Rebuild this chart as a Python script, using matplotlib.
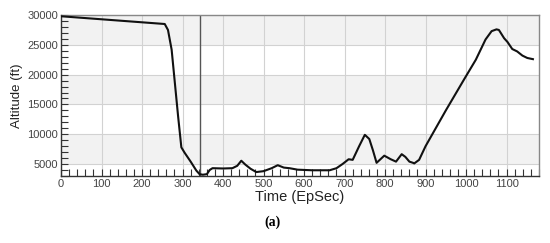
"""
Altitude profile vs. time (EpSec), panel (a).
"""

import matplotlib.pyplot as plt
from matplotlib.ticker import MultipleLocator

# Data
time_s = [0, 256, 264, 273, 281, 289, 297, 305, 320, 334, 342, 350, 360,
          367, 374, 400, 423, 435, 445, 455, 468, 482, 500, 520, 535, 550,
          564, 584, 620, 663, 680, 695, 710, 720, 736, 750, 761, 770, 779,
          798, 814, 827, 841, 850, 860, 869, 872, 884, 900, 950, 995, 1024,
          1048, 1063, 1075, 1081, 1094, 1102, 1114, 1126, 1139, 1151, 1165]
altitude_ft = [29800, 28500, 27500, 24200, 18600, 13000, 7800, 6900, 5400,
               3900, 3300, 3200, 3300, 4000, 4300, 4250, 4300, 4700, 5550,
               4900, 4200, 3650, 3800, 4300, 4800, 4400, 4300, 4050, 3950,
               3950, 4300, 5000, 5800, 5700, 8000, 9900, 9200, 7300, 5200,
               6400, 5800, 5400, 6650, 6200, 5400, 5200, 5100, 5700, 8000,
               14000, 19200, 22500, 25900, 27300, 27600, 27500, 26100, 25500,
               24300, 23900, 23200, 22800, 22600]
marker_time = 344

x_min, x_max = 0, 1180
y_min, y_max = 3000, 30000
band_edges = [(5000, 10000), (15000, 20000), (25000, 30000)]

fig = plt.figure(figsize=(5.5, 2.43), dpi=100)
ax = fig.add_axes([0.111, 0.276, 0.869, 0.662])

# alternating grey bands + grid
for lo, hi in band_edges:
    ax.axhspan(lo, hi, color="#f2f2f2", zorder=0, lw=0)
ax.set_xlim(x_min, x_max)
ax.set_ylim(y_min, y_max)
ax.xaxis.set_major_locator(MultipleLocator(100))
ax.xaxis.set_minor_locator(MultipleLocator(20))
ax.yaxis.set_major_locator(MultipleLocator(5000))
ax.yaxis.set_minor_locator(MultipleLocator(1000))
ax.grid(True, which="major", color="#d2d2d2", linewidth=0.8, zorder=1)
ax.set_axisbelow(True)

ax.plot(time_s, altitude_ft, color="#111111", linewidth=1.5, zorder=3)
ax.axvline(marker_time, color="#555555", linewidth=1.0, zorder=2)

ax.tick_params(axis="both", which="both", direction="in", colors="#333333",
               labelcolor="#444444", labelsize=8, width=0.8)
ax.tick_params(axis="both", which="major", length=5, pad=2)
ax.tick_params(axis="both", which="minor", length=5)

for side in ("left", "bottom"):
    ax.spines[side].set_color("#333333")
    ax.spines[side].set_linewidth(1.0)
for side in ("top", "right"):
    ax.spines[side].set_color("#888888")
    ax.spines[side].set_linewidth(1.0)

for lab in ax.get_xticklabels() + ax.get_yticklabels():
    lab.set_family("Liberation Sans")

ax.set_xlabel("Time (EpSec)", fontsize=10.5, family="Liberation Sans",
              color="#222222", labelpad=1)
ax.set_ylabel("Altitude (ft)", fontsize=9.5, family="Liberation Sans",
              color="#222222", labelpad=3)

fig.text(0.495, 0.085, "(a)", ha="center", va="center", fontsize=10,
         fontweight="bold", family="Liberation Serif")

fig.savefig("out.png", dpi=100)
plt.close(fig)
